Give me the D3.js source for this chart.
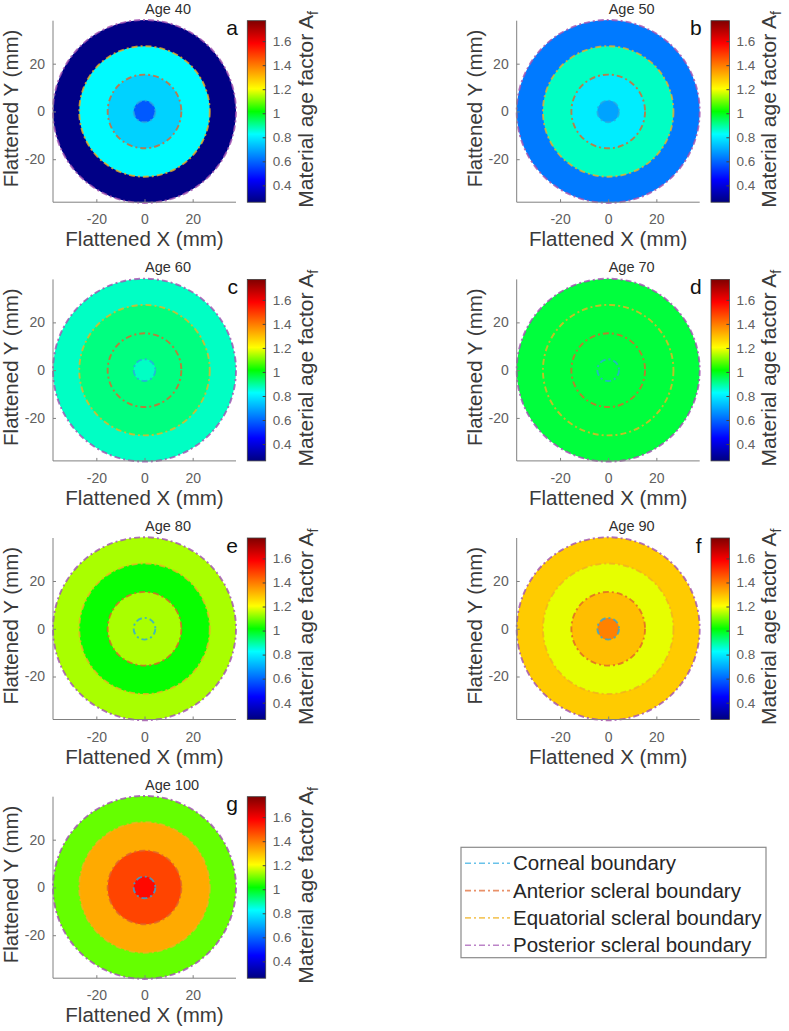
<!DOCTYPE html>
<html>
<head>
<meta charset="utf-8">
<script src="https://cdn.jsdelivr.net/npm/d3@7"></script>
<style>
  html, body { margin: 0; padding: 0; background: #fff; }
  svg { display: block; font-family: "Liberation Sans", Arial, Helvetica, sans-serif; }
</style>
</head>
<body>
<svg id="chart" width="789" height="1031"></svg>
<script>
// ---------------- data ----------------
const panelLetters = ["a", "b", "c", "d", "e", "f", "g"];
const ages = [40, 50, 60, 70, 80, 90, 100];
// zone outer radii (mm): posterior, equatorial, anterior, cornea
const zoneRadii = [38, 27.1, 15.3, 4.5];
// material age factor per zone per age
const posteriorValues  = [0.27, 0.63, 0.87, 0.97, 1.14, 1.28, 1.09];
const equatorialValues = [0.82, 0.87, 0.92, 0.97, 1.02, 1.185, 1.33];
const anteriorValues   = [0.76, 0.80, 0.92, 0.97, 1.14, 1.30, 1.48];
const cornealValues    = [0.58, 0.69, 0.87, 0.97, 1.14, 1.39, 1.57];
const axisDomain = [-38, 38];
const axisTicks = [-20, 0, 20];
const colorDomain = [0.26, 1.77];
const colorbarTicks = [0.4, 0.6, 0.8, 1, 1.2, 1.4, 1.6];
const boundaryNames = ["Corneal boundary", "Anterior scleral boundary", "Equatorial scleral boundary", "Posterior scleral boundary"];
const boundaryRadii = [4.5, 15.3, 27.1, 38];
const boundaryColors = ["#2aa8e0", "#e0622a", "#f0b020", "#a050b0"];
// jet-like colormap stops (fraction of colour range)
const cmapStops = [0, 0.125, 0.375, 0.5, 0.625, 0.875, 1];
const cmapColors = ["#00007f", "#0000ff", "#00ffff", "#00ff00", "#ffff00", "#ff0000", "#7f0000"];

// ---------------- layout ----------------
const colX = [53, 516.7];
const rowY = [20.7, 279.4, 538, 796.7];
const axW = 183, axH = 181.5;
const cbGap = 11.3, cbW = 18.4;

const svg = d3.select("#chart");
const defs = svg.append("defs");

const colorScale = d3.scaleLinear()
  .domain(cmapStops.map(s => colorDomain[0] + s * (colorDomain[1] - colorDomain[0])))
  .range(cmapColors)
  .interpolate(d3.interpolateRgb)
  .clamp(true);

const grad = defs.append("linearGradient").attr("id", "cbgrad")
  .attr("x1", 0).attr("y1", 1).attr("x2", 0).attr("y2", 0);
grad.selectAll("stop").data(cmapStops).join("stop")
  .attr("offset", d => d)
  .attr("stop-color", (d, i) => cmapColors[i]);

const tickColor = "#606060";
const labelColor = "#3a3a3a";
const dashPattern = "6,3,2,3";

ages.forEach((age, i) => {
  const col = i % 2, row = Math.floor(i / 2);
  const x0 = colX[col], y0 = rowY[row];
  const g = svg.append("g");
  const x = d3.scaleLinear().domain(axisDomain).range([x0, x0 + axW]);
  const y = d3.scaleLinear().domain(axisDomain).range([y0 + axH, y0]);
  const rs = d3.scaleLinear().domain([0, axisDomain[1]]).range([0, axW / 2]);

  const vals = [posteriorValues[i], equatorialValues[i], anteriorValues[i], cornealValues[i]];
  g.selectAll("circle.zone").data(zoneRadii).join("circle")
    .attr("class", "zone")
    .attr("cx", x(0)).attr("cy", y(0))
    .attr("r", d => rs(d))
    .attr("fill", (d, k) => colorScale(vals[k]));

  g.selectAll("circle.bnd").data(boundaryRadii).join("circle")
    .attr("class", "bnd")
    .attr("cx", x(0)).attr("cy", y(0))
    .attr("r", d => rs(d))
    .attr("fill", "none")
    .attr("stroke", (d, k) => boundaryColors[k])
    .attr("stroke-opacity", 0.8)
    .attr("stroke-width", 1.9)
    .attr("stroke-dasharray", dashPattern);

  const xAxis = d3.axisBottom(x).tickValues(axisTicks).tickSize(-3).tickPadding(10);
  const yAxis = d3.axisLeft(y).tickValues(axisTicks).tickSize(-3).tickPadding(8);
  const gx = g.append("g").attr("transform", `translate(0,${y0 + axH})`).call(xAxis);
  const gy = g.append("g").attr("transform", `translate(${x0},0)`).call(yAxis);
  [gx, gy].forEach(a => {
    a.select(".domain").remove();
    a.selectAll(".tick line").attr("stroke", "#808080");
    a.selectAll(".tick text").attr("fill", tickColor).attr("font-size", 14)
      .attr("font-family", "Liberation Sans, Arial, sans-serif").text(d => d < 0 ? "-" + Math.abs(d) : d);
  });
  g.append("line").attr("x1", x0).attr("x2", x0 + axW).attr("y1", y0 + axH).attr("y2", y0 + axH).attr("stroke", "#808080");
  g.append("line").attr("x1", x0).attr("x2", x0).attr("y1", y0).attr("y2", y0 + axH).attr("stroke", "#808080");
  gx.selectAll(".tick text").attr("dy", null).attr("y", 22);

  g.append("text").attr("x", x(0)).attr("y", y0 + axH + 44)
    .attr("text-anchor", "middle").attr("font-size", 20.5).attr("fill", labelColor)
    .text("Flattened X (mm)");
  g.append("text").attr("transform", `translate(${x0 - 35},${y0 + axH / 2 - 3}) rotate(-90)`)
    .attr("text-anchor", "middle").attr("font-size", 20.5).attr("fill", labelColor)
    .text("Flattened Y (mm)");
  g.append("text").attr("x", x(0) + 0.5).attr("y", y0 - 7)
    .attr("font-size", 14.5).attr("fill", "#303030").text("Age " + age);
  g.append("text").attr("x", x0 + axW + 2).attr("y", y0 + 14.5)
    .attr("text-anchor", "end").attr("font-size", 21).attr("fill", "#111").text(panelLetters[i]);

  const cbx = x0 + axW + cbGap;
  const cy = d3.scaleLinear().domain(colorDomain).range([y0 + axH, y0]);
  g.append("rect").attr("x", cbx).attr("y", y0).attr("width", cbW).attr("height", axH)
    .attr("fill", "url(#cbgrad)").attr("stroke", "#404040").attr("stroke-width", 0.8);
  const cbAxis = d3.axisRight(cy).tickValues(colorbarTicks).tickSize(-3).tickPadding(7)
    .tickFormat(d => d3.format("~g")(d));
  const gc = g.append("g").attr("transform", `translate(${cbx + cbW},0)`).call(cbAxis);
  gc.select(".domain").remove();
  gc.selectAll(".tick line").attr("stroke", "#404040");
  gc.selectAll(".tick text").attr("fill", tickColor).attr("font-size", 13.5)
    .attr("font-family", "Liberation Sans, Arial, sans-serif");
  const cl = g.append("text")
    .attr("transform", `translate(${cbx + cbW + 47},${y0 + axH / 2 - 2}) rotate(-90)`)
    .attr("text-anchor", "middle").attr("font-size", 21).attr("fill", labelColor);
  cl.append("tspan").text("Material age factor A");
  cl.append("tspan").attr("font-size", 14).attr("dy", 5).text("f");
});

// legend
const lg = svg.append("g");
const lx = 461, ly = 847.3, lw = 305, lh = 110.4;
lg.append("rect").attr("x", lx).attr("y", ly).attr("width", lw).attr("height", lh)
  .attr("fill", "#fff").attr("stroke", "#8a8a8a").attr("stroke-width", 1.2);
const ly0 = 863.3, lstep = 27.3;
boundaryNames.forEach((name, k) => {
  const yy = ly0 + k * lstep;
  lg.append("line").attr("x1", lx + 4).attr("x2", lx + 49).attr("y1", yy).attr("y2", yy)
    .attr("stroke", boundaryColors[k]).attr("stroke-opacity", 0.7).attr("stroke-width", 1.6)
    .attr("stroke-dasharray", dashPattern);
  lg.append("text").attr("x", lx + 52).attr("y", yy + 7).attr("font-size", 20.5)
    .attr("fill", "#262626").text(name);
});
</script>
</body>
</html>
